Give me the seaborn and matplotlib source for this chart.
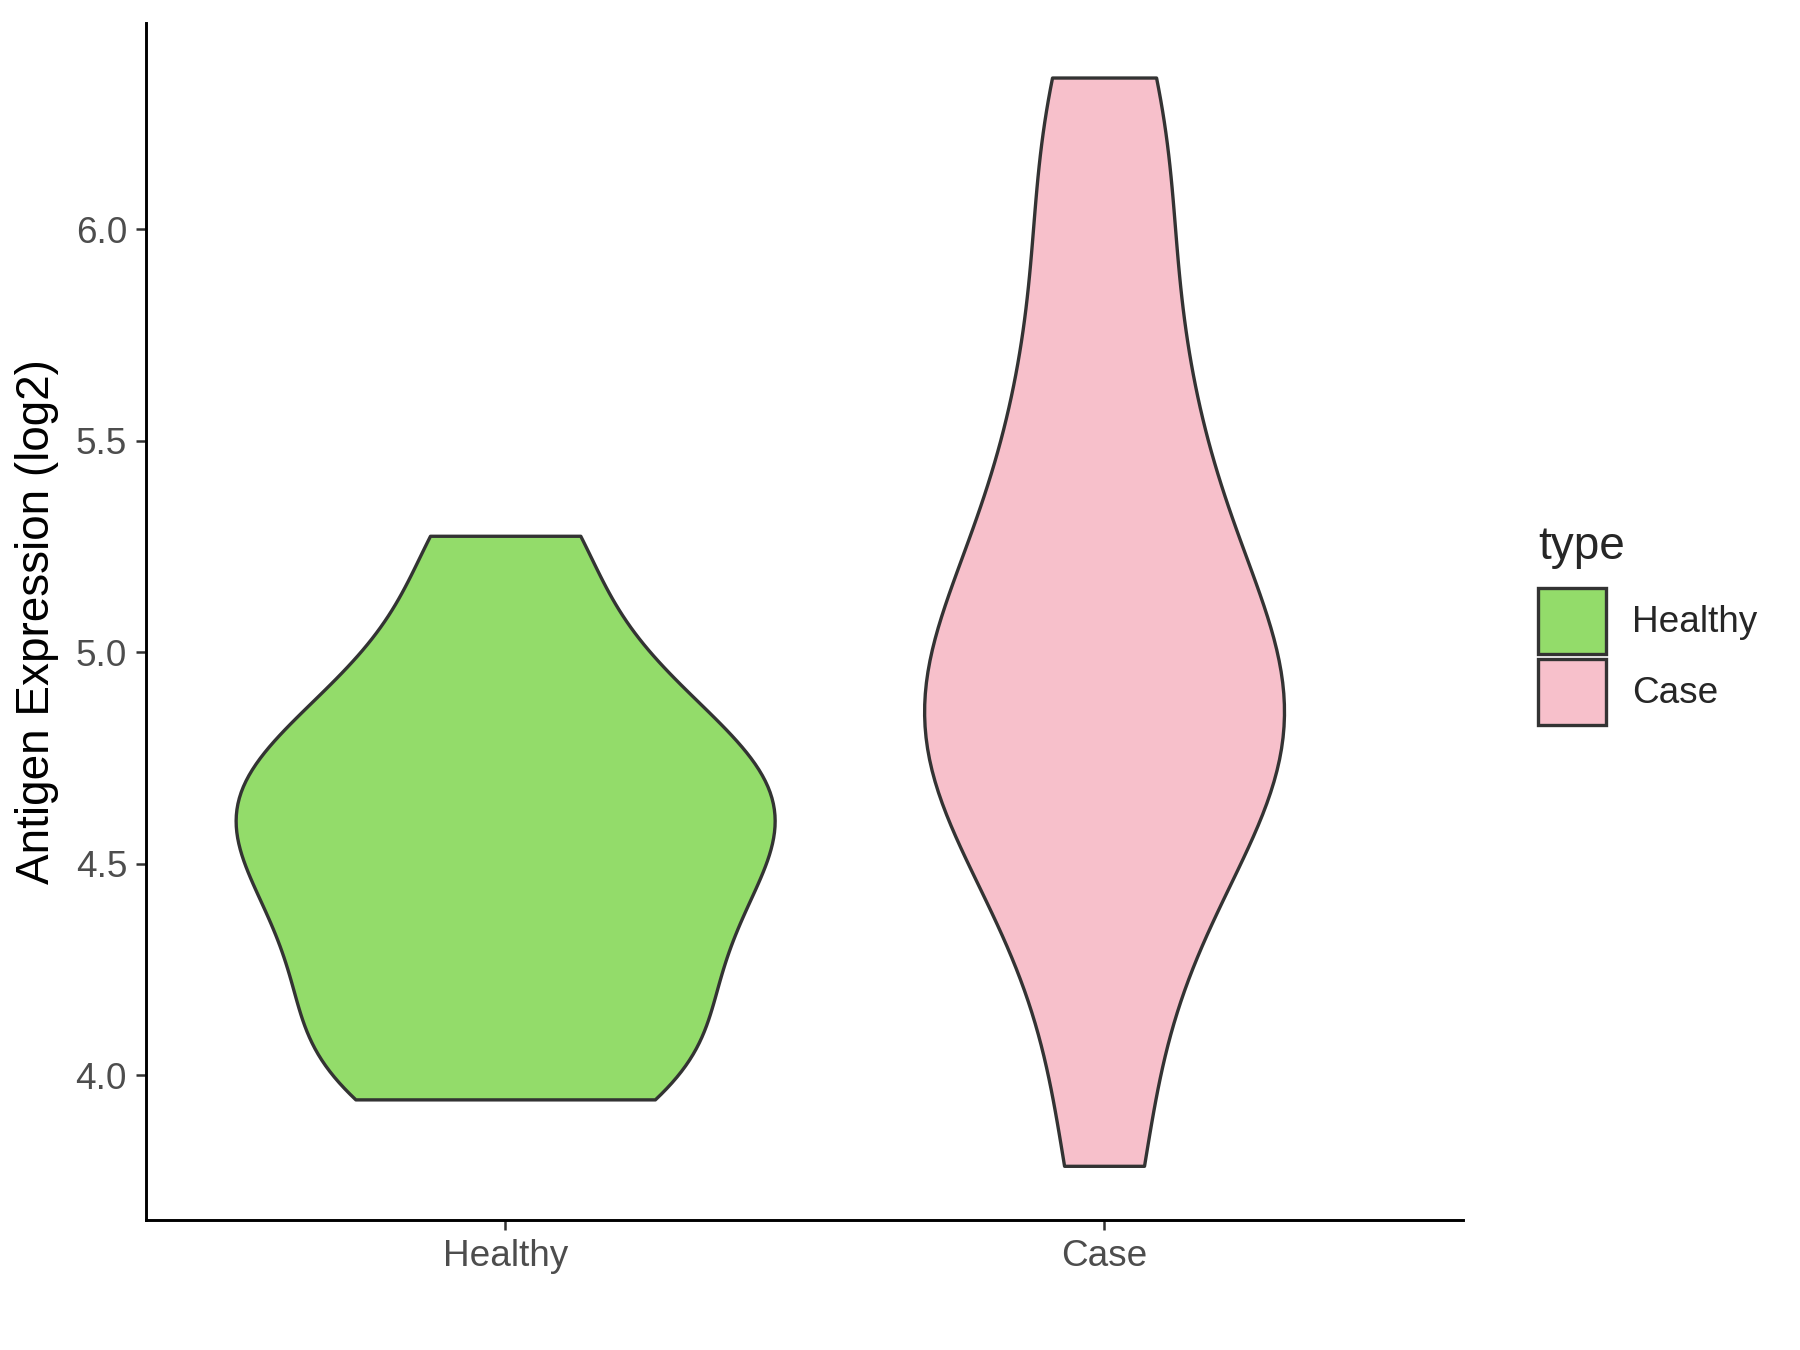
import numpy as np
import pandas as pd
import matplotlib
matplotlib.use("Agg")
import matplotlib.pyplot as plt
from matplotlib.patches import Patch
import seaborn as sns

groups = ["Healthy", "Case"]
healthy_vals = [3.943, 4.00, 4.12, 4.25, 4.35, 4.45, 4.55, 4.62, 4.68, 4.76, 4.86, 5.02, 5.275]
case_vals = [3.786, 4.25, 4.48, 4.66, 4.76, 4.82, 4.88, 4.98, 5.12, 5.30, 5.50, 5.75, 6.10, 6.358]
colors = {"Healthy": "#93DC6A", "Case": "#F7C0CB"}

df = pd.DataFrame({
    "type": ["Healthy"] * len(healthy_vals) + ["Case"] * len(case_vals),
    "value": healthy_vals + case_vals,
})

sns.set_style("white")
plt.rcParams["font.family"] = ["Liberation Sans", "DejaVu Sans"]

fig = plt.figure(figsize=(12, 9), dpi=150)
ax = fig.add_axes([0.081, 0.096, 0.732, 0.887])

# common_norm so the two violins share one density scale (area)
sns.violinplot(data=df, x="type", y="value", hue="type", order=groups, hue_order=groups,
               palette=colors, saturation=1, cut=0, inner=None, density_norm="area",
               common_norm=True, width=0.9, bw_adjust=0.75, linewidth=1.6,
               linecolor="#333333", legend=False, ax=ax)

ax.set_xlim(-0.6, 1.6)
ax.set_ylim(3.657, 6.487)
ax.set_yticks([4.0, 4.5, 5.0, 5.5, 6.0])
ax.set_xlabel("")
ax.set_ylabel("Antigen Expression (log2)", fontsize=22, color="black", labelpad=8)
ax.tick_params(axis="both", labelsize=17.7, labelcolor="#4D4D4D", color="#333333",
               length=5, width=1.2, left=True, bottom=True, pad=4)
for s in ["top", "right"]:
    ax.spines[s].set_visible(False)
for s in ["left", "bottom"]:
    ax.spines[s].set_linewidth(1.4)
    ax.spines[s].set_color("black")

handles = [Patch(facecolor=colors[g], edgecolor="#333333", linewidth=1.6, label=g) for g in groups]
leg = fig.legend(handles=handles, title="type", loc="center left", bbox_to_anchor=(0.84, 0.537),
                 frameon=False, fontsize=17.7, title_fontsize=22, handlelength=1.85, handleheight=2.4,
                 labelspacing=0.12, handletextpad=0.7, borderpad=0.2)
leg._legend_box.align = "left"
leg._legend_box.sep = 9

fig.savefig("out.png", dpi=150)
